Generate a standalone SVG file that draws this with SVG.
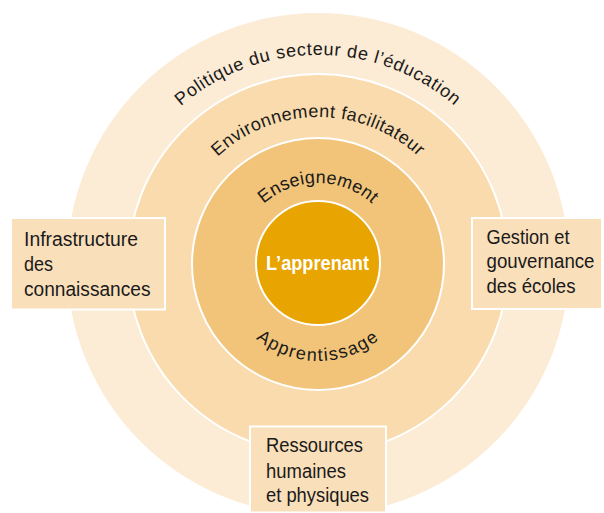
<svg xmlns="http://www.w3.org/2000/svg" width="604" height="513" viewBox="0 0 604 513">
  <style>
    .ring { stroke: #ffffff; stroke-width: 2; }
    .box { fill: #F9DFBA; stroke: #ffffff; stroke-width: 2; }
    .lbl { font-family: "Liberation Sans", Arial, sans-serif; font-size: 20px; fill: #1a1a1a; }
    .arc { font-family: "Liberation Sans", Arial, sans-serif; font-size: 18px; fill: #1a1a1a; }
    .core { font-family: "Liberation Sans", Arial, sans-serif; font-size: 20px; font-weight: bold; fill: #ffffff; }
  </style>
  <defs>
    <path id="pOuter" d="M 109,264 A 209,209 0 0 1 527,264"/>
    <path id="pEnv" d="M 171,264 A 147,147 0 0 1 465,264"/>
    <path id="pEns" d="M 237,264 A 81,81 0 0 1 399,264"/>
    <path id="pApp" d="M 221,264 A 97,97 0 0 0 415,264"/>
  </defs>
  <rect width="604" height="513" fill="#ffffff"/>

  <g id="ring-politique">
    <circle cx="318" cy="264" r="251" fill="#FCEBD5"/>
    <text class="arc" letter-spacing="0.7"><textPath href="#pOuter" startOffset="50%" text-anchor="middle">Politique du secteur de l’éducation</textPath></text>
  </g>
  <g id="ring-environnement">
    <circle class="ring" cx="318" cy="264" r="190" fill="#F9DBAD"/>
    <text class="arc" letter-spacing="0.5"><textPath href="#pEnv" startOffset="50%" text-anchor="middle">Environnement facilitateur</textPath></text>
  </g>
  <g id="ring-enseignement">
    <circle class="ring" cx="318" cy="264" r="126" fill="#F1C479"/>
    <text class="arc" letter-spacing="0.3"><textPath href="#pEns" startOffset="50%" text-anchor="middle">Enseignement</textPath></text>
    <text class="arc" letter-spacing="1.5"><textPath href="#pApp" startOffset="50%" text-anchor="middle">Apprentissage</textPath></text>
  </g>
  <g id="apprenant">
    <circle class="ring" cx="318" cy="263" r="62" fill="#E8A400"/>
    <text class="core" x="266" y="269.5" textLength="103" lengthAdjust="spacingAndGlyphs">L’apprenant</text>
  </g>

  <g id="box-infrastructure">
    <rect class="box" x="11" y="218" width="154" height="91.5"/>
    <text class="lbl" x="24" y="246" textLength="114" lengthAdjust="spacingAndGlyphs">Infrastructure</text>
    <text class="lbl" x="24" y="271" textLength="29" lengthAdjust="spacingAndGlyphs">des</text>
    <text class="lbl" x="24" y="296" textLength="126.5" lengthAdjust="spacingAndGlyphs">connaissances</text>
  </g>
  <g id="box-gestion">
    <rect class="box" x="472" y="218" width="130" height="91"/>
    <text class="lbl" x="486.5" y="243.5" textLength="83" lengthAdjust="spacingAndGlyphs">Gestion et</text>
    <text class="lbl" x="486.5" y="268" textLength="108" lengthAdjust="spacingAndGlyphs">gouvernance</text>
    <text class="lbl" x="486.5" y="292.5" textLength="89" lengthAdjust="spacingAndGlyphs">des écoles</text>
  </g>
  <g id="box-ressources">
    <rect class="box" x="250" y="426.5" width="136" height="86"/>
    <text class="lbl" x="266" y="452" textLength="97" lengthAdjust="spacingAndGlyphs">Ressources</text>
    <text class="lbl" x="266" y="477.5" textLength="80" lengthAdjust="spacingAndGlyphs">humaines</text>
    <text class="lbl" x="266" y="501.5" textLength="103" lengthAdjust="spacingAndGlyphs">et physiques</text>
  </g>

  <g id="connectors"/>
</svg>
